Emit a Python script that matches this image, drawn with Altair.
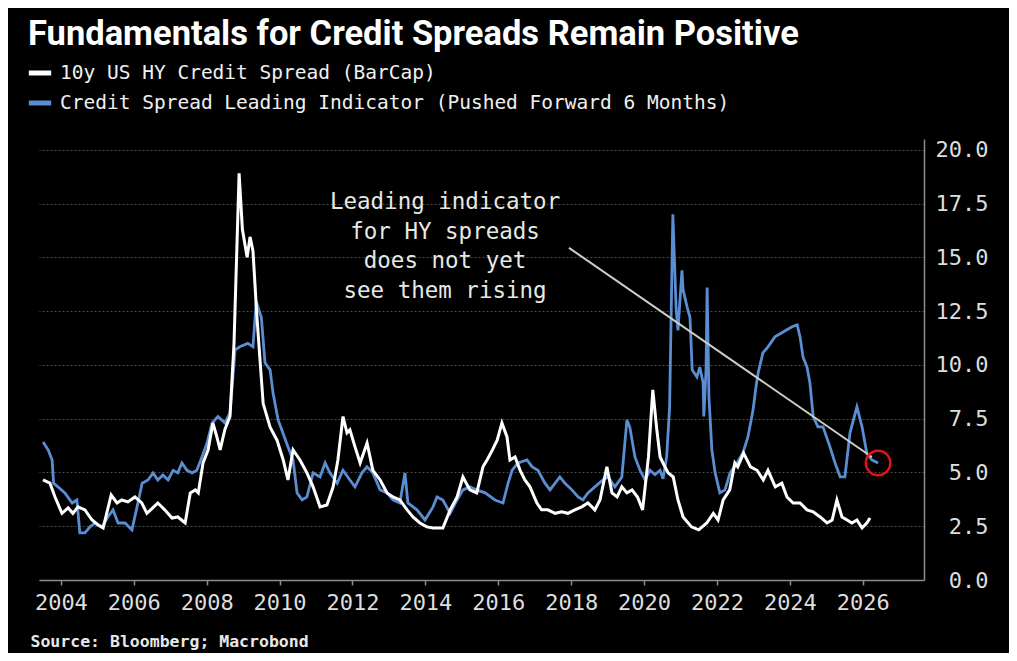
import altair as alt
import pandas as pd

TITLE = "Fundamentals for Credit Spreads Remain Positive"
SOURCE = "Source: Bloomberg; Macrobond"
HY_LABEL = "10y US HY Credit Spread (BarCap)"
LI_LABEL = "Credit Spread Leading Indicator (Pushed Forward 6 Months)"

hy_year = [2003.51, 2003.70, 2003.84, 2004.03, 2004.20, 2004.33, 2004.47, 2004.66, 2004.85, 2005.02,
           2005.16, 2005.38, 2005.54, 2005.67, 2005.84, 2006.03, 2006.22, 2006.36, 2006.52, 2006.66,
           2006.85, 2007.05, 2007.21, 2007.41, 2007.55, 2007.69, 2007.77, 2007.90, 2008.04, 2008.17,
           2008.28, 2008.37, 2008.50, 2008.64, 2008.75, 2008.89, 2008.98, 2009.11, 2009.19, 2009.27,
           2009.38, 2009.55, 2009.74, 2009.93, 2010.10, 2010.23, 2010.37, 2010.56, 2010.75, 2010.92,
           2011.11, 2011.30, 2011.47, 2011.60, 2011.74, 2011.85, 2011.93, 2012.07, 2012.21, 2012.40,
           2012.56, 2012.76, 2012.95, 2013.11, 2013.30, 2013.50, 2013.66, 2013.85, 2014.04, 2014.21,
           2014.48, 2014.68, 2014.87, 2015.03, 2015.22, 2015.41, 2015.58, 2015.70, 2015.84, 2015.97,
           2016.10, 2016.24, 2016.32, 2016.46, 2016.60, 2016.73, 2016.87, 2017.06, 2017.19, 2017.36,
           2017.56, 2017.74, 2017.91, 2018.10, 2018.29, 2018.46, 2018.65, 2018.79, 2018.98, 2019.12,
           2019.26, 2019.39, 2019.53, 2019.67, 2019.82, 2019.96, 2020.12, 2020.24, 2020.35, 2020.44,
           2020.52, 2020.66, 2020.80, 2020.93, 2021.07, 2021.30, 2021.50, 2021.72, 2021.90, 2022.03,
           2022.17, 2022.35, 2022.49, 2022.57, 2022.73, 2022.92, 2023.10, 2023.27, 2023.40, 2023.60,
           2023.78, 2023.92, 2024.09, 2024.28, 2024.47, 2024.64, 2024.83, 2025.02, 2025.16, 2025.29,
           2025.43, 2025.57, 2025.70, 2025.84, 2025.98, 2026.11, 2026.20]
hy_value = [4.65, 4.50, 3.86, 3.10, 3.35, 3.10, 3.40, 3.26, 2.80, 2.56,
            2.42, 3.95, 3.58, 3.72, 3.63, 3.86, 3.58, 3.10, 3.35, 3.58,
            3.26, 2.88, 2.93, 2.65, 4.05, 4.19, 4.05, 5.44, 6.05, 7.30,
            6.65, 6.05, 7.00, 7.60, 11.00, 18.90, 16.30, 15.00, 15.95, 15.30,
            12.20, 8.20, 7.10, 6.50, 5.58, 4.65, 6.05, 5.58, 4.98, 4.33,
            3.40, 3.49, 4.33, 5.58, 7.60, 6.84, 6.98, 6.19, 5.44, 6.37,
            5.10, 4.65, 4.05, 3.86, 3.72, 3.26, 2.93, 2.65, 2.47, 2.42,
            2.42, 3.26, 3.86, 4.79, 4.19, 4.05, 5.26, 5.60, 6.05, 6.50,
            7.30, 6.65, 5.58, 5.72, 5.10, 4.65, 4.33, 3.58, 3.26, 3.26,
            3.10, 3.17, 3.10, 3.26, 3.40, 3.58, 3.26, 3.72, 5.26, 4.05,
            3.86, 4.33, 4.05, 4.19, 3.86, 3.26, 5.72, 8.84, 6.98, 5.72,
            5.44, 4.98, 4.79, 3.72, 2.93, 2.47, 2.33, 2.65, 3.10, 2.79,
            3.72, 4.19, 5.44, 5.26, 5.90, 5.26, 5.10, 4.65, 5.10, 4.33,
            4.50, 3.86, 3.58, 3.58, 3.26, 3.17, 2.93, 2.65, 2.79, 3.72,
            2.93, 2.79, 2.65, 2.79, 2.42, 2.65, 2.88]

li_year = [2003.51, 2003.65, 2003.76, 2003.80, 2003.92, 2004.11, 2004.31, 2004.44, 2004.52, 2004.66,
           2004.80, 2004.94, 2005.13, 2005.29, 2005.43, 2005.57, 2005.76, 2005.95, 2006.09, 2006.23,
           2006.39, 2006.53, 2006.66, 2006.80, 2006.94, 2007.08, 2007.21, 2007.32, 2007.46, 2007.60,
           2007.73, 2007.87, 2008.01, 2008.15, 2008.31, 2008.50, 2008.64, 2008.78, 2008.91, 2009.13,
           2009.27, 2009.36, 2009.50, 2009.60, 2009.74, 2009.82, 2009.96, 2010.09, 2010.23, 2010.37,
           2010.48, 2010.62, 2010.75, 2010.92, 2011.11, 2011.25, 2011.38, 2011.58, 2011.74, 2011.93,
           2012.07, 2012.26, 2012.40, 2012.56, 2012.76, 2012.95, 2013.11, 2013.30, 2013.44, 2013.52,
           2013.77, 2013.99, 2014.21, 2014.32, 2014.48, 2014.68, 2014.87, 2015.03, 2015.22, 2015.40,
           2015.64, 2015.91, 2016.13, 2016.27, 2016.38, 2016.54, 2016.79, 2016.93, 2017.09, 2017.28,
           2017.42, 2017.56, 2017.69, 2017.83, 2018.02, 2018.19, 2018.32, 2018.46, 2018.65, 2018.87,
           2019.01, 2019.20, 2019.39, 2019.53, 2019.61, 2019.75, 2019.89, 2020.03, 2020.16, 2020.30,
           2020.44, 2020.52, 2020.62, 2020.70, 2020.79, 2020.88, 2020.93, 2021.04, 2021.07, 2021.18,
           2021.26, 2021.32, 2021.45, 2021.53, 2021.62, 2021.64, 2021.70, 2021.73, 2021.78, 2021.86,
           2021.95, 2022.08, 2022.22, 2022.36, 2022.55, 2022.71, 2022.85, 2022.99, 2023.07, 2023.13,
           2023.26, 2023.40, 2023.59, 2023.78, 2023.92, 2024.06, 2024.20, 2024.28, 2024.36, 2024.47,
           2024.55, 2024.64, 2024.77, 2024.91, 2025.10, 2025.24, 2025.38, 2025.51, 2025.65, 2025.84,
           2025.98, 2026.11, 2026.25, 2026.42]
li_value = [6.42, 6.05, 5.58, 4.50, 4.33, 4.05, 3.58, 3.72, 2.19, 2.19,
            2.47, 2.65, 2.47, 2.93, 3.26, 2.65, 2.65, 2.33, 3.40, 4.50,
            4.65, 4.98, 4.65, 4.88, 4.65, 5.10, 4.98, 5.44, 5.10, 4.98,
            5.10, 5.72, 6.37, 7.30, 7.60, 7.30, 7.77, 10.70, 10.84, 11.00,
            10.84, 12.95, 12.20, 10.10, 9.77, 8.70, 7.44, 6.84, 6.19, 5.58,
            4.05, 3.72, 3.86, 4.98, 4.79, 5.44, 4.98, 4.50, 5.10, 4.65,
            4.33, 4.98, 5.26, 4.98, 4.19, 4.05, 3.72, 3.58, 4.98, 3.58,
            3.26, 2.79, 3.40, 3.86, 3.72, 3.10, 3.72, 4.19, 4.33, 4.19,
            4.05, 3.72, 3.58, 4.50, 5.10, 5.44, 5.58, 5.26, 5.10, 4.50,
            4.19, 4.50, 4.79, 4.50, 4.19, 3.86, 3.72, 4.05, 4.33, 4.65,
            4.79, 4.33, 4.79, 7.44, 7.10, 5.72, 5.10, 4.65, 5.10, 4.90,
            5.10, 4.70, 5.72, 8.00, 17.00, 12.60, 11.60, 14.40, 13.50, 12.70,
            12.20, 9.77, 9.44, 9.90, 9.16, 7.60, 9.77, 13.60, 8.50, 6.05,
            4.98, 4.05, 4.19, 4.98, 5.44, 5.90, 6.65, 7.90, 8.98, 9.63,
            10.56, 10.84, 11.30, 11.49, 11.63, 11.77, 11.86, 11.30, 10.37, 9.90,
            9.16, 7.60, 7.12, 7.12, 6.19, 5.44, 4.79, 4.79, 6.84, 8.05,
            7.12, 5.90, 5.58, 5.44]

assert len(hy_year) == len(hy_value)
assert len(li_year) == len(li_value)

x_ticks = list(range(2004, 2027, 2))
y_ticks = [0, 2.5, 5, 7.5, 10, 12.5, 15, 17.5, 20]

note_lines = ["Leading indicator", "for HY spreads", "does not yet", "see them rising"]
note_year = [2014.54]
note_value = [17.57]

arrow_year = [2017.94]
arrow_value = [15.44]
arrow_year2 = [2026.25]
arrow_value2 = [5.72]

circle_year = [2026.42]
circle_value = [5.44]

MONO = "DejaVu Sans Mono"
WHITE = "#ffffff"
BLUE = "#5b8dd3"
LABEL_GRAY = "#dedede"
AXIS_GRAY = "#8c8c8c"

hy_df = pd.DataFrame({"year": hy_year, "value": hy_value, "series": HY_LABEL})
li_df = pd.DataFrame({"year": li_year, "value": li_value, "series": LI_LABEL})
note_df = pd.DataFrame({"year": note_year, "value": note_value, "text": ["\n".join(note_lines)]})
arrow_df = pd.DataFrame({"year": arrow_year, "value": arrow_value,
                         "year2": arrow_year2, "value2": arrow_value2})
circle_df = pd.DataFrame({"year": circle_year, "value": circle_value})

color = alt.Color(
    "series:N",
    scale=alt.Scale(domain=[HY_LABEL, LI_LABEL], range=[WHITE, BLUE]),
    legend=alt.Legend(
        orient="none", legendX=-13, legendY=-80, direction="vertical", title=None,
        labelFont=MONO, labelFontSize=19.5, labelColor="#f0f0f0", labelLimit=1000,
        symbolType="stroke", symbolStrokeWidth=5, symbolSize=500,
        labelOffset=6, rowPadding=6, padding=0, offset=0,
    ),
)

x_enc = alt.X(
    "year:Q",
    scale=alt.Scale(domain=[2003.40, 2027.68], nice=False, zero=False),
    axis=alt.Axis(
        values=x_ticks, format="d", labelFont=MONO, labelFontSize=22, labelColor=LABEL_GRAY,
        labelPadding=7, labelFlush=False, labelOverlap=False,
        ticks=True, tickSize=5, tickColor=AXIS_GRAY, tickWidth=1.5,
        domain=True, domainColor=AXIS_GRAY, domainWidth=1.5, grid=False,
        title=SOURCE, titleFont=MONO, titleFontWeight="bold", titleFontSize=16.5,
        titleColor="#e8e8e8", titleAnchor="start", titleAlign="left",
        titleBaseline="alphabetic", titleX=-9, titleY=66,
    ),
)
y_enc = alt.Y(
    "value:Q",
    scale=alt.Scale(domain=[0, 20.5], nice=False, zero=True),
    axis=alt.Axis(
        orient="right", values=y_ticks, format=".1f", labelFont=MONO, labelFontSize=22,
        labelColor=LABEL_GRAY, labelAlign="right", labelBaseline="middle", labelPadding=64,
        ticks=False, tickSize=0, domain=True, domainColor=AXIS_GRAY, domainWidth=1.5,
        grid=True, gridColor="#4d4d4d", gridDash=[2, 2], gridWidth=1, title="",
    ),
)

li_line = alt.Chart(li_df).mark_line(strokeWidth=2.8).encode(x=x_enc, y=y_enc, color=color)
hy_line = alt.Chart(hy_df).mark_line(strokeWidth=3).encode(x="year:Q", y="value:Q", color=color)

arrow = alt.Chart(arrow_df).mark_rule(color="#cfcfc6", strokeWidth=2).encode(
    x="year:Q", y="value:Q", x2="year2:Q", y2="value2:Q"
)
circle = alt.Chart(circle_df).mark_point(
    shape="circle", filled=False, size=600, color="#e3121b", strokeWidth=2.5, opacity=1
).encode(x="year:Q", y="value:Q")
note = alt.Chart(note_df).mark_text(
    font=MONO, fontSize=22.5, color="#e8e8e2", align="center", baseline="middle",
    lineBreak="\n", lineHeight=29.5,
).encode(x="year:Q", y="value:Q", text="text:N")

chart = (
    alt.layer(li_line, hy_line, arrow, circle, note)
    .properties(
        width=885,
        height=441,
        padding={"left": 31, "top": 131, "right": 85, "bottom": 73},
        autosize=alt.AutoSizeParams(type="none"),
        background="#000000",
        title=alt.TitleParams(
            text=TITLE, anchor="start", frame="group", dx=-11, offset=7,
            font="Roboto", fontSize=34.5, fontWeight="bold", color="#ffffff",
        ),
    )
    .configure_view(stroke="transparent")
)

chart.save("out.html", embed_options={"renderer": "svg", "actions": False})
